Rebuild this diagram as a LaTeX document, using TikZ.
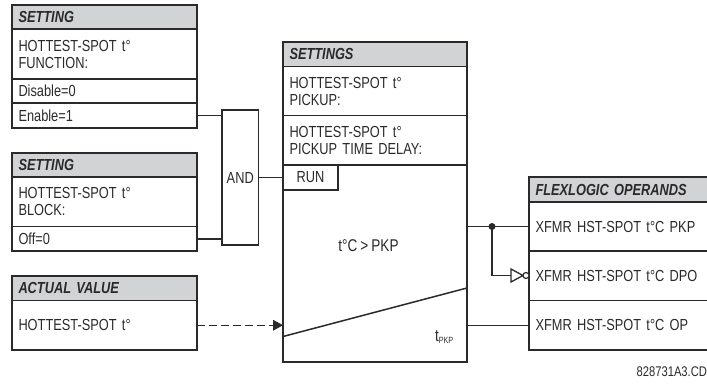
\documentclass[tikz,border=0pt]{standalone}
\usepackage{fontspec}
\setmainfont[FakeStretch=0.8,WordSpace=0.8]{Liberation Sans}
\definecolor{ink}{HTML}{2B292A}
\definecolor{headgray}{HTML}{D1D3D4}
\newcommand{\dg}{°}
\tikzset{
  x=1pt,y=-1pt,
  cell/.style={draw=ink,line width=1.6pt,anchor=north west,inner xsep=6.5pt,inner ysep=0pt,outer sep=0pt,
    align=left,text=ink,font=\fontsize{16}{17}\selectfont,minimum height=#1},
  cell/.default=24pt,
  lbox/.style={cell=#1,minimum width=185pt,text width=172pt},
  sbox/.style={cell=#1,minimum width=184pt,text width=171pt},
  obox/.style={cell=#1,minimum width=190pt,text width=177pt},
  head/.style={fill=headgray,font=\fontsize{16}{17}\bfseries\itshape\selectfont},
  wire/.style={draw=ink,line width=1.5pt},
  plain/.style={text=ink,inner sep=0pt,outer sep=0pt,font=\fontsize{16}{17}\selectfont},
  inv/.style={draw=ink,line width=1.3pt,fill=white},
  gatebox/.style={draw=ink,line width=1.6pt,anchor=north west,inner sep=0pt,outer sep=0pt,text=ink,font=\fontsize{16}{17}\selectfont},
}
\begin{document}
\begin{tikzpicture}
\clip (0,0) rectangle (707,383);
% setting 1
\node[lbox=24pt,head] (s1h) at (12,5) {SETTING};
\node[lbox=50pt] (s1f) at (12,29) {HOTTEST-SPOT t\dg\\FUNCTION:};
\node[lbox=24pt] (s1d) at (12,79) {Disable=0};
\node[lbox=25pt] (s1e) at (12,103) {Enable=1};
% setting 2
\node[lbox=24pt,head] (s2h) at (12,153) {SETTING};
\node[lbox=49.5pt] (s2f) at (12,177) {HOTTEST-SPOT t\dg\\BLOCK:};
\node[lbox=24.5pt] (s2o) at (12,226.5) {Off=0};
% actual value
\node[lbox=24.5pt,head] (avh) at (12,276) {ACTUAL VALUE};
\node[lbox=49.5pt] (avv) at (12,300.5) {HOTTEST-SPOT t\dg};
% AND
\node[gatebox,minimum width=36.5pt,minimum height=135pt] (and) at (222,110) {AND};
% settings
\node[sbox=24.5pt,head] (th) at (283,42) {SETTINGS};
\node[sbox=49pt] (tp) at (283,66.5) {HOTTEST-SPOT t\dg\\PICKUP:};
\node[sbox=49.5pt] (td) at (283,115.5) {HOTTEST-SPOT t\dg\\PICKUP TIME DELAY:};
\node[cell=197pt,minimum width=184pt] (tm) at (283,165) {};
\node[gatebox,minimum width=55pt,minimum height=25pt] (run) at (283,165) {RUN};
\coordinate (rampa) at (283,336.5);
\coordinate (rampb) at (467,288);
\draw[wire] (rampa) -- (rampb);
\node[plain,font=\fontsize{17}{18}\selectfont] (cmp) at (368.5,246) {t\dg C > PKP};
\node[plain,anchor=base west,font=\fontsize{17}{18}\selectfont] (tpk) at (435,341) {t\raisebox{-2.5pt}{\fontsize{9}{9}\selectfont PKP}};
% operands
\node[obox=25pt,head] (oh) at (529,177) {FLEXLOGIC OPERANDS};
\node[obox=49pt] (o1) at (529,202) {XFMR HST-SPOT t\dg C PKP};
\node[obox=49.5pt] (o2) at (529,251) {XFMR HST-SPOT t\dg C DPO};
\node[obox=49.5pt] (o3) at (529,300.5) {XFMR HST-SPOT t\dg C OP};
% connectors
\draw[wire] (s1e.east) -- (s1e.east -| and.west);
\draw[wire] (s2o.east) -- (s2o.east -| and.west);
\draw[wire] (and.east |- run.west) -- (run.west);
\draw[wire,dash pattern=on 7.5pt off 4.5pt] (avv.east) -- ([xshift=-10pt]avv.east -| tm.west);
\fill[ink,draw=none] (avv.east -| tm.west) -- ++(-10,-5.5) -- ++(0,11) -- cycle;
\draw[wire] (o1.west -| tm.east) -- (o1.west);
\draw[wire] (o3.west -| tm.east) -- (o3.west);
\coordinate (jn) at (492,226.5);
\fill[ink,draw=none] (jn) circle (3.5pt);
\coordinate (invin) at (511,275.5);
\draw[wire] (jn) |- (invin);
\draw[inv] (invin) -- ++(0,-6.5) -- ++(12,6.5) -- ++(-12,6.5) -- cycle;
\node[draw=ink,line width=1.2pt,fill=white,circle,minimum size=6pt,inner sep=0pt,outer sep=0pt] (bub) at (526,275.5) {};
% code
\node[plain,anchor=east,font=\fontsize{14}{15}\selectfont] (code) at (707,372) {828731A3.CD};
\end{tikzpicture}
\end{document}
